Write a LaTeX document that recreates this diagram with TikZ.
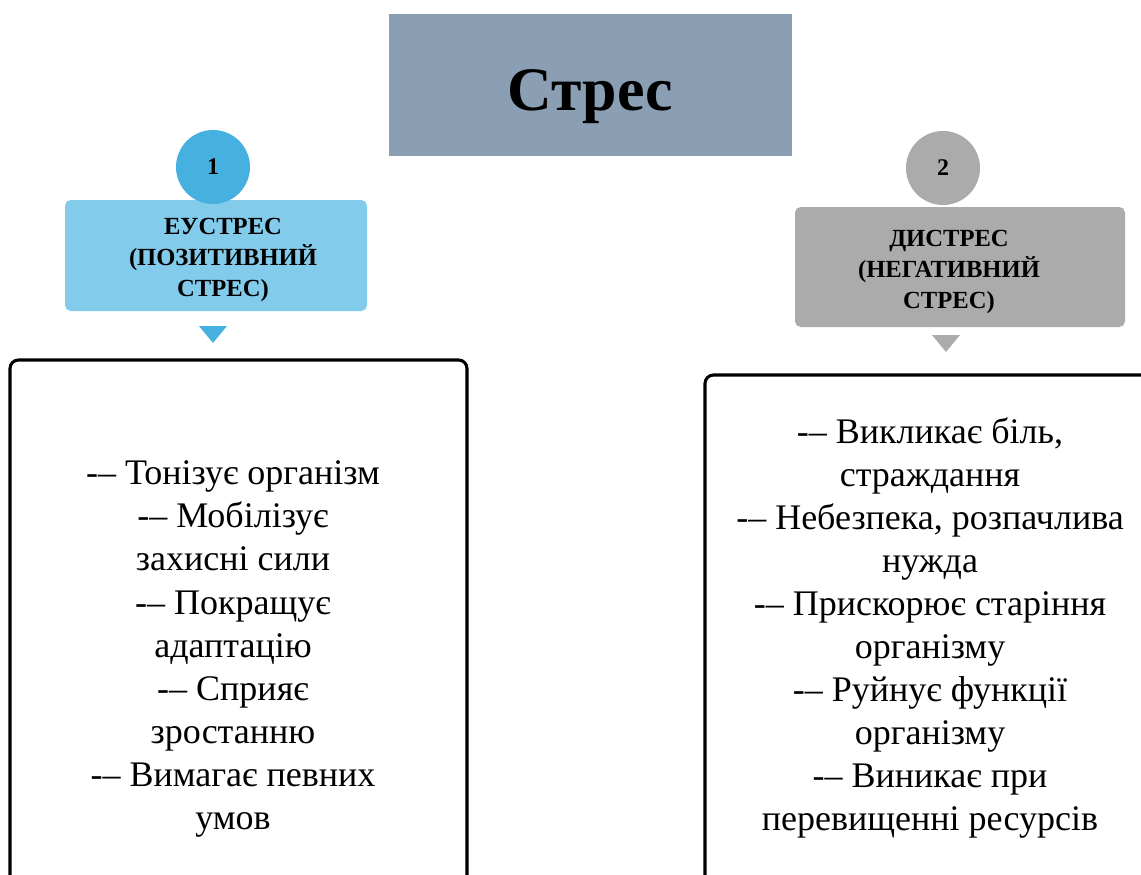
\documentclass[tikz,border=0pt]{standalone}
\usepackage{fontspec}
\setmainfont{Liberation Serif}
\usetikzlibrary{calc}

\definecolor{stressgray}{HTML}{8A9FB4}
\definecolor{eudark}{HTML}{46B0E1}
\definecolor{eulight}{HTML}{83CBEB}
\definecolor{disgray}{HTML}{ABABAB}

\tikzset{
    numcircle/.style={circle, fill=#1, minimum size=74*0.025cm, inner sep=0pt,
        font=\bfseries\fontsize{17}{21}\selectfont},
    headbox/.style={fill=#1, rounded corners=4pt, inner sep=0pt},
    headtext/.style={align=center, inner sep=0pt, font=\bfseries\fontsize{17.5}{22.3}\selectfont},
    listbox/.style={draw=black, line width=2.2pt, rounded corners=6pt, inner sep=0pt},
    listtext/.style={align=center, font=\fontsize{25.6}{30.6}\selectfont},
}

\begin{document}
\begin{tikzpicture}[x=0.025cm, y=-0.025cm]

\def\px{0.025cm}
\def\tw{14}
\def\th{17}

\useasboundingbox (0,0) rectangle (1141,874);
\clip (0,0) rectangle (1141,874);

% title
\node[fill=stressgray, minimum width=403*\px, minimum height=142*\px, inner sep=0pt] (stress) at (590.5,85) {};
\node[font=\bfseries\fontsize{44}{50}\selectfont] (stresslbl) at (590.5,97) {Стрес};

% eustress
\node[headbox=eulight, minimum width=302*\px, minimum height=111*\px] (eu) at (216,255.5) {};
\node[headtext] (eulbl) at (223,260) {ЕУСТРЕС\\(ПОЗИТИВНИЙ\\СТРЕС)};
\node[numcircle=eudark] (n1) at (213,167) {1};
\coordinate (t1) at (213,326);
\fill[eudark] ($(t1)+(-\tw,0)$) -- ($(t1)+(\tw,0)$) -- ($(t1)+(0,\th)$) -- cycle;
\node[listbox, minimum width=457*\px, minimum height=580*\px] (boxeu) at (238.5,650) {};
\node[listtext] (txteu) at (233,649)
    {-– Тонізує організм\\-– Мобілізує\\захисні сили\\-– Покращує\\адаптацію\\-– Сприяє\\зростанню\\-– Вимагає певних\\умов};

% distress
\node[headbox=disgray, minimum width=330*\px, minimum height=120*\px] (dis) at (960,267) {};
\node[headtext] (dislbl) at (949,272) {ДИСТРЕС\\(НЕГАТИВНИЙ\\СТРЕС)};
\node[numcircle=disgray] (n2) at (943,168) {2};
\coordinate (t2) at (946,335);
\fill[disgray] ($(t2)+(-\tw,0)$) -- ($(t2)+(\tw,0)$) -- ($(t2)+(0,\th)$) -- cycle;
\node[listbox, minimum width=460*\px, minimum height=560*\px] (boxdis) at (935,655) {};
\node[listtext] (txtdis) at (930,628)
    {-– Викликає біль,\\страждання\\-– Небезпека, розпачлива\\нужда\\-– Прискорює старіння\\організму\\-– Руйнує функції\\організму\\-– Виникає при\\перевищенні ресурсів};

\end{tikzpicture}
\end{document}
